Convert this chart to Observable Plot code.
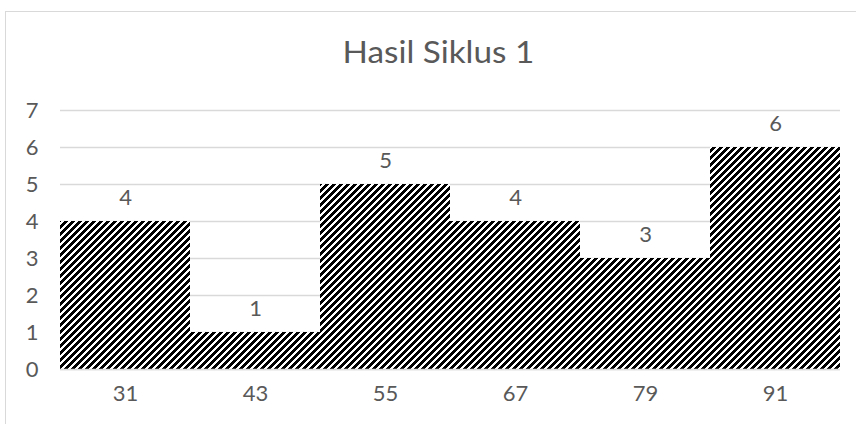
<!DOCTYPE html>
<html>
<head>
<meta charset="utf-8">
<script src="https://cdn.jsdelivr.net/npm/d3@7"></script>
<script src="https://cdn.jsdelivr.net/npm/@observablehq/plot@0.6"></script>
<style>
  html, body { margin: 0; padding: 0; background: #fff; }
  body { width: 856px; height: 424px; position: relative; overflow: hidden; font-family: Lato, "Noto Sans", sans-serif; }
  #frame { position: absolute; left: 5px; top: 11px; width: 1000px; height: 1000px;
           border-left: 1.5px solid #d9d9d9; border-top: 1.5px solid #d9d9d9; box-sizing: border-box; }
  #title { position: absolute; left: 0; top: 0; width: 876px; height: 90px; text-align: center;
           font-size: 30px; line-height: 30px; color: #595959; padding-top: 36px; box-sizing: border-box; }
  #title span { display: inline-block; transform: scaleX(1.11); transform-origin: center; }
  #chart { position: absolute; left: 0; top: 90px; }
</style>
</head>
<body>
<div id="frame"></div>
<div id="title"><span>Hasil Siklus 1</span></div>
<div id="chart"></div>
<script>
const categories = ["31", "43", "55", "67", "79", "91"];
const values = [4, 1, 5, 4, 3, 6];
const yTicks = [0, 1, 2, 3, 4, 5, 6, 7];

const data = categories.map((c, i) => ({category: c, value: values[i]}));

// pixel hatch pattern ("wide upward diagonal")
const defs = () => {
  const N = 7, BLACK = 4;
  const g = d3.create("svg:defs");
  const p = g.append("pattern")
    .attr("id", "hatch")
    .attr("patternUnits", "userSpaceOnUse")
    .attr("width", N).attr("height", N);
  p.append("rect").attr("width", N).attr("height", N).attr("fill", "#fff");
  let d = "";
  for (let r = 0; r < N; r++) {
    for (let k = 0; k < BLACK; k++) {
      const c = (N - 1 - r + k) % N;
      d += `M${c},${r}h1v1h-1z`;
    }
  }
  p.append("path").attr("d", d).attr("fill", "#000").attr("shape-rendering", "crispEdges");
  return g.node();
};

const chart = Plot.plot({
  width: 856,
  height: 334,
  marginLeft: 60,
  marginRight: 16,
  marginTop: 20,
  marginBottom: 55,
  style: {fontFamily: "Lato, 'Noto Sans', sans-serif", fontSize: "22px", color: "#595959", background: "transparent", overflow: "visible"},
  x: {domain: categories, padding: 0, label: null, tickSize: 0, tickPadding: 16},
  y: {domain: [0, 7], ticks: yTicks, label: null, tickSize: 0, tickPadding: 22},
  marks: [
    defs,
    Plot.gridY(yTicks, {stroke: "#d9d9d9", strokeOpacity: 1, strokeWidth: 1.3}),
    Plot.barY(data, {x: "category", y: "value", fill: "url(#hatch)", shapeRendering: "crispEdges"}),
    Plot.ruleY([0], {stroke: "#d9d9d9", strokeWidth: 1.5}),
    Plot.text(data, {x: "category", y: "value", text: d => String(d.value), dy: -24, fill: "#595959", fontSize: 22}),
    Plot.axisX({tickSize: 0, tickPadding: 16, fontSize: 22, fill: "#595959"}),
    Plot.axisY(yTicks, {tickSize: 0, tickPadding: 22, fontSize: 22, fill: "#595959"})
  ]
});
document.getElementById("chart").appendChild(chart);
</script>
</body>
</html>
